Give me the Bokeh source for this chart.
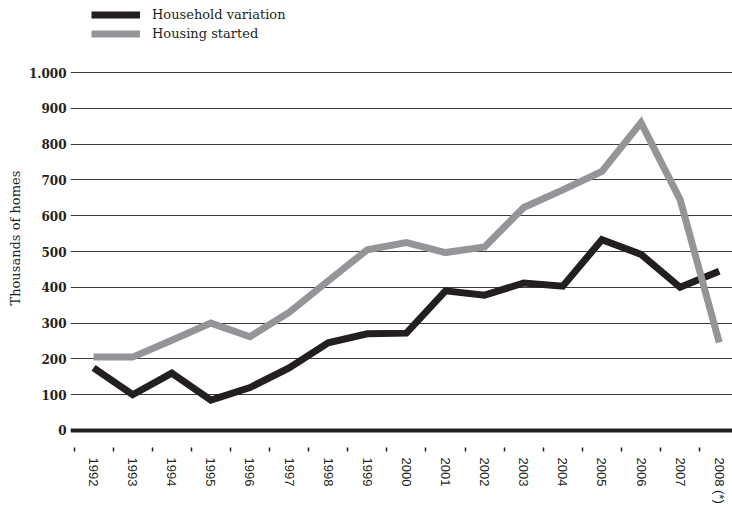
from bokeh.plotting import figure
from bokeh.layouts import column
from bokeh.models import Range1d, FixedTicker, Span, Title
from bokeh.embed import file_html
from bokeh.resources import INLINE

years = ["1992", "1993", "1994", "1995", "1996", "1997", "1998", "1999", "2000",
         "2001", "2002", "2003", "2004", "2005", "2006", "2007", "2008 (*)"]
household = [175, 100, 160, 85, 120, 175, 245, 270, 272, 390, 378, 412, 403, 533, 492, 400, 445]
housing = [205, 205, 252, 300, 262, 330, 418, 505, 525, 497, 513, 623, 672, 724, 860, 645, 246]
y_ticks = [0, 100, 200, 300, 400, 500, 600, 700, 800, 900, 1000]
y_title = "Thousands of homes"
series_names = ["Household variation", "Housing started"]

x = list(range(len(years)))
ink = "#231f20"
grey = "#939598"

# ---- legend strip on top (series drawn out of view; only the legend shows) ----
leg = figure(width=732, height=46, output_backend="svg", toolbar_location=None,
             x_axis_location=None, y_axis_location=None,
             x_range=Range1d(-0.59, 16.34), y_range=Range1d(5000, 6000),
             min_border_left=0, min_border_right=0, min_border_top=0, min_border_bottom=0)
leg.outline_line_color = None
leg.xgrid.grid_line_color = None
leg.ygrid.grid_line_color = None
leg.line(x, household, line_color=ink, line_width=7, legend_label=series_names[0])
leg.line(x, housing, line_color=grey, line_width=7, legend_label=series_names[1])
lg = leg.legend[0]
lg.location = (21, 4)
lg.orientation = "vertical"
lg.background_fill_alpha = 0
lg.border_line_color = None
lg.padding = 0
lg.margin = 0
lg.spacing = 2
lg.glyph_width = 49
lg.glyph_height = 17
lg.label_height = 17
lg.label_standoff = 12
lg.label_text_font = "DejaVu Serif"
lg.label_text_font_size = "13px"
lg.label_text_color = ink

# ---- main chart ----
p = figure(frame_width=662, frame_height=381, output_backend="svg", toolbar_location=None,
           x_range=Range1d(-0.59, 16.34), y_range=Range1d(-47.5, 1016.8),
           min_border_left=70, min_border_right=0, min_border_top=20, min_border_bottom=58)
p.outline_line_color = None

p.line(x, household, line_color=ink, line_width=7, line_join="miter")
p.line(x, housing, line_color=grey, line_width=7, line_join="miter")

p.add_layout(Span(location=0, dimension="width", line_color=ink, line_width=4))

# x axis
p.xgrid.grid_line_color = None
xa = p.xaxis[0]
xa.ticker = FixedTicker(ticks=x, minor_ticks=[i - 0.5 for i in range(len(years))])
xa.major_label_overrides = {i: years[i] for i in x}
xa.major_label_orientation = "vertical"
xa.axis_line_color = None
xa.major_tick_line_color = None
xa.major_tick_out = 4
xa.major_tick_in = 0
xa.minor_tick_line_color = ink
xa.minor_tick_line_width = 1.5
xa.minor_tick_out = 4
xa.minor_tick_in = 0
xa.major_label_standoff = 6
xa.major_label_text_font = "Liberation Sans"
xa.major_label_text_font_size = "13px"
xa.major_label_text_color = ink

# y axis
ya = p.yaxis[0]
ya.ticker = FixedTicker(ticks=y_ticks)
ya.major_label_overrides = {1000: "1.000"}
ya.axis_line_color = None
ya.major_tick_line_color = None
ya.minor_tick_line_color = None
ya.major_tick_out = 0
ya.major_label_standoff = 4
ya.major_label_text_font = "DejaVu Serif"
ya.major_label_text_font_style = "bold"
ya.major_label_text_font_size = "12px"
ya.major_label_text_color = ink
p.ygrid.grid_line_color = "#3a3a3a"
p.ygrid.grid_line_width = 1

p.add_layout(Title(text=y_title, align="left", offset=142, standoff=6,
                   text_font="DejaVu Serif", text_font_size="13px",
                   text_font_style="normal", text_color=ink), "left")

layout = column(leg, p, spacing=0)
open("out.html", "w").write(file_html(layout, INLINE))
